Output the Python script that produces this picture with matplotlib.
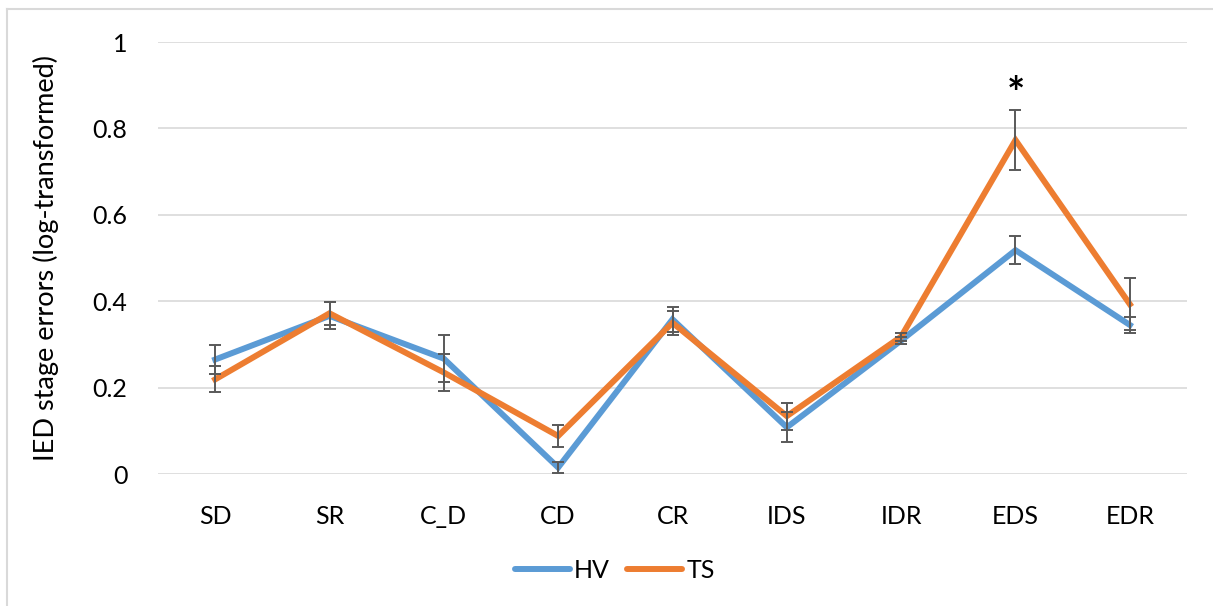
import numpy as np
import matplotlib.pyplot as plt
from matplotlib.lines import Line2D

# stage labels and group means / standard errors
stages = ['SD', 'SR', 'C_D', 'CD', 'CR', 'IDS', 'IDR', 'EDS', 'EDR']
hv_mean = [0.265, 0.366, 0.267, 0.015, 0.358, 0.108, 0.309, 0.518, 0.345]
hv_err = [0.033, 0.031, 0.054, 0.013, 0.029, 0.035, 0.007, 0.033, 0.018]
ts_mean = [0.219, 0.372, 0.235, 0.088, 0.350, 0.134, 0.318, 0.773, 0.393]
ts_err = [0.030, 0.027, 0.043, 0.025, 0.028, 0.031, 0.009, 0.070, 0.060]
y_ticks = [0, 0.2, 0.4, 0.6, 0.8, 1]
y_tick_labels = ['0', '0.2', '0.4', '0.6', '0.8', '1']
sig_stage = 'EDS'

plt.rcParams['font.family'] = ['Lato', 'DejaVu Sans']

blue = '#5B9BD5'
orange = '#ED7D31'
grid_col = '#D9D9D9'
err_col = '#595959'

fig = plt.figure(figsize=(12.13, 6.06), dpi=100)
ax = fig.add_axes([158/1213, 1-474/606, (1187-158)/1213, (474-42)/606])

x = np.arange(len(stages))
ax.plot(x, hv_mean, color=blue, lw=4.3, solid_joinstyle='miter', label='HV', zorder=3)
ax.plot(x, ts_mean, color=orange, lw=4.3, solid_joinstyle='miter', label='TS', zorder=4)
ax.errorbar(x, hv_mean, yerr=hv_err, fmt='none', ecolor=err_col, elinewidth=1.4,
            capsize=4.5, capthick=1.4, zorder=5)
ax.errorbar(x, ts_mean, yerr=ts_err, fmt='none', ecolor=err_col, elinewidth=1.4,
            capsize=4.5, capthick=1.4, zorder=5)

# significance marker
ax.text(stages.index(sig_stage), 0.878, '*', ha='center', va='center',
        fontsize=31, fontweight='bold', color='black')

ax.set_xlim(-0.5, len(stages) - 0.5)
ax.set_ylim(0, 1)
ax.set_xticks(x)
ax.set_xticklabels(stages)
ax.set_yticks(y_ticks)
ax.set_yticklabels(y_tick_labels)
ax.tick_params(axis='both', length=0, labelsize=18, colors='black')
ax.tick_params(axis='y', pad=22)
ax.tick_params(axis='x', pad=22)
ax.grid(axis='y', color=grid_col, lw=1.2)
ax.set_axisbelow(True)
for s in ax.spines.values():
    s.set_visible(False)

ax.set_ylabel('IED stage errors (log-transformed)', fontsize=19.5, labelpad=24)

fig.legend(handles=[Line2D([], [], color=blue, lw=4.3, solid_capstyle='round'),
                    Line2D([], [], color=orange, lw=4.3, solid_capstyle='round')],
           labels=['HV', 'TS'], loc='center', bbox_to_anchor=(615/1213, 1-570/606),
           ncol=2, frameon=False, fontsize=18, handlelength=2.2,
           handletextpad=0.15, columnspacing=0.7)

# chart area border (top and left edges)
fig.add_artist(Line2D([7/1213, 1], [1-9/606, 1-9/606], color=grid_col, lw=1.5))
fig.add_artist(Line2D([7/1213, 7/1213], [0, 1-9/606], color=grid_col, lw=1.5))

fig.savefig('out.png', dpi=100)
